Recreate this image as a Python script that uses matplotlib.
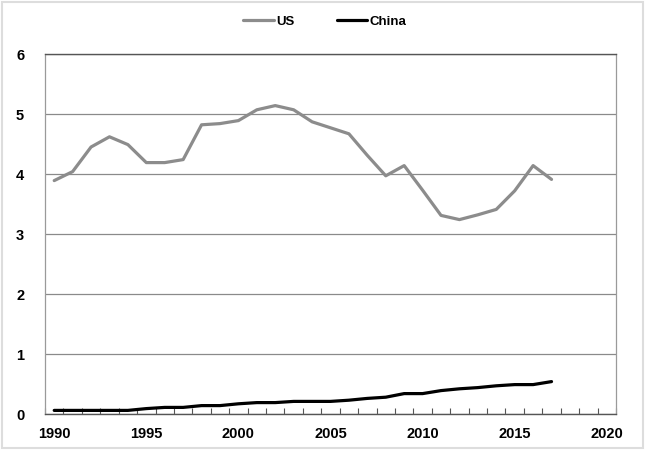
import matplotlib
matplotlib.use("Agg")
import matplotlib.pyplot as plt
from matplotlib.patches import Rectangle
from matplotlib.ticker import FixedLocator

years = list(range(1990, 2018))
us = [3.89, 4.04, 4.45, 4.62, 4.49, 4.19, 4.19, 4.24, 4.82, 4.84,
      4.89, 5.07, 5.14, 5.07, 4.87, 4.77, 4.67, 4.31, 3.97, 4.14,
      3.73, 3.31, 3.24, 3.32, 3.41, 3.72, 4.14, 3.91]
china = [0.06, 0.06, 0.06, 0.06, 0.06, 0.09, 0.11, 0.11, 0.14, 0.14,
         0.17, 0.19, 0.19, 0.21, 0.21, 0.21, 0.23, 0.26, 0.28, 0.34,
         0.34, 0.39, 0.42, 0.44, 0.47, 0.49, 0.49, 0.54]
xticks = [1990, 1995, 2000, 2005, 2010, 2015, 2020]
yticks = [0, 1, 2, 3, 4, 5, 6]

plt.rcParams['font.family'] = ['Liberation Sans', 'DejaVu Sans']
plt.rcParams['font.weight'] = 'bold'

fig = plt.figure(figsize=(6.45, 4.5), dpi=100)
ax = fig.add_axes([45/645, 1-414/450, (616-45)/645, (414-54)/450])

ax.plot(years, us, color='#8c8c8c', lw=2.3, label='US', solid_capstyle='round')
ax.plot(years, china, color='#000000', lw=2.3, label='China', solid_capstyle='round')

ax.set_xlim(1989.5, 2020.5)
ax.set_ylim(0, 6)
ax.set_yticks(yticks)
ax.set_xticks(xticks)
ax.xaxis.set_minor_locator(FixedLocator([y + 0.5 for y in range(1989, 2021)]))
ax.tick_params(axis='x', which='major', length=0, pad=9, labelsize=10.5)
ax.tick_params(axis='x', which='minor', length=4, direction='in', color='#555555', width=0.8)
ax.tick_params(axis='y', length=0, pad=15, labelsize=10.5)
for lab in ax.get_xticklabels() + ax.get_yticklabels():
    lab.set_fontweight('bold')

ax.grid(axis='y', color='#8a8a8a', lw=0.9)
ax.set_axisbelow(True)
for s in ['left', 'right']:
    ax.spines[s].set_color('#9a9a9a')
    ax.spines[s].set_linewidth(0.9)
ax.spines['top'].set_color('#555555')
ax.spines['bottom'].set_color('#555555')
ax.spines['top'].set_linewidth(1.0)
ax.spines['bottom'].set_linewidth(1.0)

leg = fig.legend(loc='center', bbox_to_anchor=(325/645, 1-22/450), ncol=2, frameon=False,
                 handlelength=2.3, handletextpad=0.2, columnspacing=3.2,
                 prop={'weight': 'bold', 'size': 9.5})

fig.patches.append(Rectangle((2/645, 2/450), 641/645, 446/450, transform=fig.transFigure,
                             fill=False, edgecolor='#dddddd', lw=1.5))

fig.savefig('out.png', dpi=100)
